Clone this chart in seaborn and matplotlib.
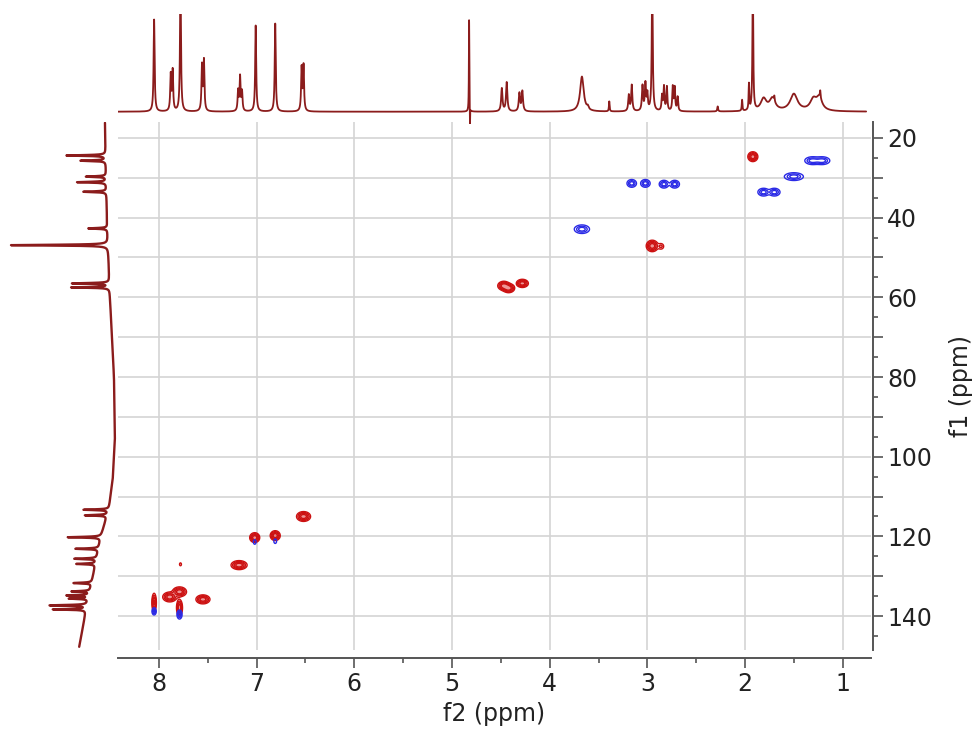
import numpy as np
import pandas as pd
import seaborn as sns
import matplotlib.pyplot as plt
from matplotlib.ticker import MultipleLocator, FuncFormatter

# 1H projection (f2): peak position (ppm), height, half width (ppm)
h_ppm = [8.05, 7.88, 7.86, 7.78, 7.56, 7.54, 7.19, 7.17, 7.15, 7.01, 6.81, 6.54, 6.52,
         4.825, 4.816, 4.49, 4.44, 4.31, 4.28, 3.67, 3.61, 3.39, 3.19, 3.16, 3.05, 3.02,
         3.00, 2.95, 2.85, 2.83, 2.80, 2.74, 2.72, 2.69, 2.28, 2.03, 1.96, 1.92, 1.81,
         1.72, 1.70, 1.50, 1.30, 1.24, 1.23]
h_int = [92, 36, 40, 130, 45, 50, 20, 34, 19, 86, 88, 43, 45,
         92, -20, 23, 29, 18, 20, 35, 3, 10, 16, 26, 25, 27,
         16, 130, 15, 24, 24, 24, 23, 14, 5, 11, 26, 130, 12,
         12, 5, 17, 11, 12, 7]
h_wid = [0.006, 0.006, 0.006, 0.006, 0.006, 0.006, 0.006, 0.006, 0.006, 0.006, 0.006, 0.006, 0.006,
         0.0025, 0.0015, 0.008, 0.008, 0.008, 0.008, 0.022, 0.01, 0.004, 0.007, 0.007, 0.007, 0.007,
         0.006, 0.006, 0.006, 0.006, 0.006, 0.006, 0.006, 0.006, 0.005, 0.004, 0.004, 0.005, 0.035,
         0.035, 0.004, 0.045, 0.04, 0.035, 0.004]

# 13C projection (f1): peak position (ppm), height
c_ppm = [24.4, 25.7, 29.7, 31.1, 33.5, 42.7, 46.9, 56.5, 57.5, 113.3, 114.7, 120.2,
         123.1, 125.6, 126.9, 131.7, 133.8, 134.8, 135.6, 137.3, 138.3]
c_int = [39, 25, 20, 29, 23, 19, 97, 37, 38, 25, 22, 33,
         23, 22, 19, 18, 18, 22, 19, 37, 33]
# rolling baseline of the 13C projection
c_base_ppm = [16, 40, 60, 80, 95, 105, 113, 120, 130, 140, 148]
c_base = [13, 11, 8, 4, 3, 5, 9, 17, 25, 33, 39]

# HSQC cross peaks: f2 (ppm), f1 (ppm), amplitude, widths
pos_f2 = [1.92, 2.95, 2.86, 4.47, 4.42, 4.28, 6.52, 6.81, 7.02, 7.18, 7.78, 7.79, 7.89, 7.55, 7.79, 8.05]
pos_f1 = [24.7, 47.1, 47.2, 57.1, 57.7, 56.5, 115.0, 119.8, 120.3, 127.2, 127.0, 133.9, 135.2, 135.8, 137.9, 136.6]
pos_amp = [1, 1, 0.3, 1, 1, 1, 1, 1, 1, 1, 0.25, 1, 1, 1, 1, 0.8]
pos_sx = [0.025, 0.03, 0.02, 0.03, 0.03, 0.03, 0.035, 0.025, 0.025, 0.04, 0.008, 0.035, 0.035, 0.035, 0.015, 0.012]
pos_sy = [0.6, 0.7, 0.5, 0.55, 0.55, 0.5, 0.6, 0.6, 0.6, 0.55, 0.3, 0.6, 0.6, 0.55, 1.0, 1.2]

neg_f2 = [3.67, 3.16, 3.02, 2.83, 2.72, 1.81, 1.70, 1.50, 1.31, 1.21, 8.05, 7.79, 7.02, 6.81]
neg_f1 = [42.9, 31.4, 31.4, 31.6, 31.6, 33.6, 33.6, 29.7, 25.7, 25.7, 138.8, 139.6, 121.4, 121.2]
neg_amp = [1, 1, 1, 1, 1, 1, 1, 1, 1, 1, 0.8, 0.9, 0.4, 0.4]
neg_sx = [0.04, 0.025, 0.025, 0.025, 0.025, 0.03, 0.03, 0.05, 0.04, 0.04, 0.012, 0.014, 0.01, 0.01]
neg_sy = [0.55, 0.5, 0.5, 0.5, 0.5, 0.5, 0.5, 0.5, 0.5, 0.5, 0.5, 0.6, 0.4, 0.4]

line_col = '#8b1c1c'
xlim = (8.42, 0.71)
ylim = (148.5, 16)

# build projections
x1h = np.linspace(8.42, 0.76, 30000)
y1h = np.zeros_like(x1h)
for p, h, w in zip(h_ppm, h_int, h_wid):
    y1h += h * w**2 / ((x1h - p)**2 + w**2)
top = pd.DataFrame({'ppm': x1h, 'intensity': y1h})

y13c = np.linspace(16.2, 147.7, 20000)
v13c = np.interp(y13c, c_base_ppm, c_base)
for p, h in zip(c_ppm, c_int):
    w = 0.12
    v13c += h * w**2 / ((y13c - p)**2 + w**2)
left = pd.DataFrame({'ppm': y13c, 'intensity': v13c})

# 2D field
gx = np.linspace(0.7, 8.45, 2000)
gy = np.linspace(16, 148.5, 1100)
X, Y = np.meshgrid(gx, gy)
Zp = np.zeros_like(X)
Zn = np.zeros_like(X)
for f2, f1, a, sx, sy in zip(pos_f2, pos_f1, pos_amp, pos_sx, pos_sy):
    Zp += a * np.exp(-((X - f2)**2 / (2 * sx**2) + (Y - f1)**2 / (2 * sy**2)))
for f2, f1, a, sx, sy in zip(neg_f2, neg_f1, neg_amp, neg_sx, neg_sy):
    Zn += a * np.exp(-((X - f2)**2 / (2 * sx**2) + (Y - f1)**2 / (2 * sy**2)))

sns.set_style('white')
plt.rcParams['font.family'] = ['DejaVu Sans']

fig = plt.figure(figsize=(9.79, 7.49), dpi=100)
ax = fig.add_axes([0.1205, 0.1322, 0.7692, 0.7049])
ax_top = fig.add_axes([0.1205, 0.8351, 0.7692, 0.1462])
ax_left = fig.add_axes([0.0, 0.1322, 0.1205, 0.7049])

# main 2D plot
ax.contourf(X, Y, Zp, levels=[0.3, 10], colors='#e04040', alpha=0.55)
ax.contour(X, Y, Zp, levels=[0.12, 0.25, 0.45, 0.7], colors='#cc1111', linewidths=1.0)
ax.contour(X, Y, Zn, levels=[0.15, 0.4, 0.7], colors='#2a2ae6', linewidths=1.0)
ax.set_xlim(*xlim)
ax.set_ylim(*ylim)
ax.xaxis.set_major_locator(MultipleLocator(1))
ax.xaxis.set_minor_locator(MultipleLocator(0.5))
ax.yaxis.set_major_locator(MultipleLocator(10))
ax.yaxis.set_minor_locator(MultipleLocator(5))
ax.yaxis.set_major_formatter(FuncFormatter(lambda v, pos: f'{v:.0f}' if round(v) % 20 == 0 else ''))
ax.xaxis.set_major_formatter(FuncFormatter(lambda v, pos: f'{v:.0f}'))
ax.yaxis.tick_right()
ax.yaxis.set_label_position('right')
ax.grid(True, which='major', color='#d4d4d4', linewidth=1.2)
for s in ['left', 'top']:
    ax.spines[s].set_visible(False)
for s in ['right', 'bottom']:
    ax.spines[s].set_color('#555555')
    ax.spines[s].set_linewidth(1.4)
ax.spines['bottom'].set_position(('outward', 6))
ax.spines['right'].set_position(('outward', 1.5))
ax.tick_params(which='major', length=7, width=1.2, color='#555555', labelsize=17, labelcolor='#222222', pad=3)
ax.tick_params(which='minor', length=3.5, width=1.2, color='#555555')
ax.tick_params(axis='x', which='both', bottom=True)
ax.tick_params(axis='y', which='both', right=True, left=False)
ax.set_xlabel('f2 (ppm)', fontsize=17, color='#222222', labelpad=4)
ax.set_ylabel('f1 (ppm)', fontsize=17, color='#222222', labelpad=12)

# 1H projection
sns.lineplot(data=top, x='ppm', y='intensity', ax=ax_top, color=line_col, linewidth=1.3,
             estimator=None, sort=False)
ax_top.set_xlim(*xlim)
ax_top.set_ylim(-11.8, 97.7)
ax_top.axis('off')
ax_top.patch.set_alpha(0)

# 13C projection
sns.lineplot(data=left, x='intensity', y='ppm', ax=ax_left, color=line_col, linewidth=1.7,
             estimator=None, sort=False, orient='y')
ax_left.set_xlim(118, 0)
ax_left.set_ylim(*ylim)
ax_left.axis('off')
ax_left.patch.set_alpha(0)

fig.savefig('out.png', dpi=100)
